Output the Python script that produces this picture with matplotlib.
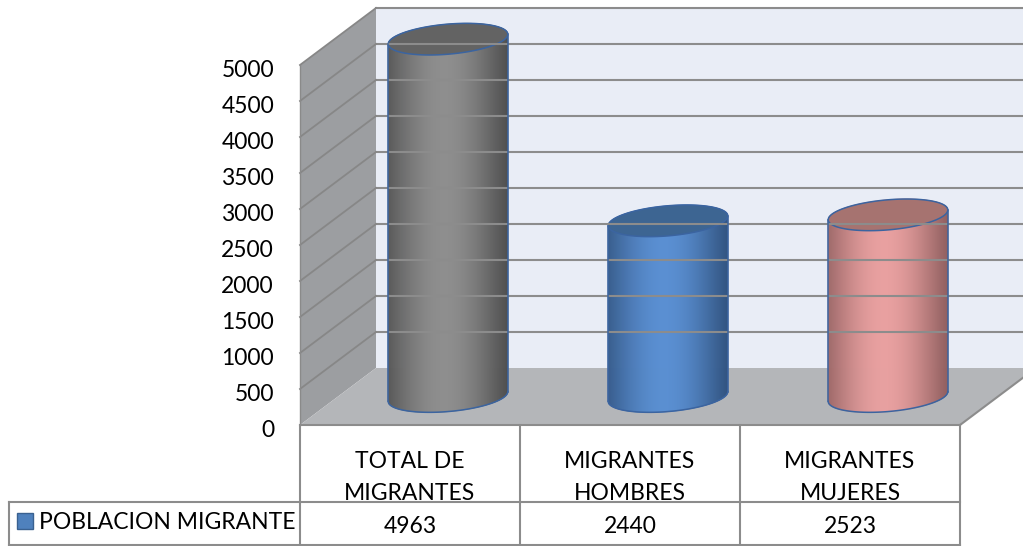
import numpy as np
import matplotlib
matplotlib.use('Agg')
import matplotlib.pyplot as plt
from matplotlib.patches import Polygon, Rectangle
from matplotlib.collections import PolyCollection
from matplotlib.transforms import Affine2D, IdentityTransform
from matplotlib.colors import to_rgb

plt.rcParams['font.family'] = ['Lato', 'DejaVu Sans']

# datos
categorias = [['TOTAL DE', 'MIGRANTES'], ['MIGRANTES', 'HOMBRES'], ['MIGRANTES', 'MUJERES']]
valores = [4963, 2440, 2523]
serie = 'POBLACION MIGRANTE'
ticks_y = list(range(0, 5001, 500))

# colores (oscuro, claro) del cuerpo y color de la tapa
colores_cuerpo = [('#4a4a4a', '#8e8e8e'), ('#2e4f7a', '#5a8fd2'), ('#8a5a5a', '#e8a0a0')]
colores_tapa = ['#636363', '#3d6592', '#a67370']
borde_cil = '#3b64a0'
gris_linea = '#8c8c8c'
FS = 16.5

W, H = 1023, 546
fig = plt.figure(figsize=(W / 100, H / 100), dpi=100)
ax = fig.add_axes([300 / W, 121 / H, 660 / W, 360 / H])
ax.set_xlim(0, 3)
ax.set_ylim(0, 5000)
ax.axis('off')

DX, DY = 76, 57  # profundidad 3D en pixeles
ID = IdentityTransform()


def px(x, y, prof=0.0):
    t = ax.transData + Affine2D().translate(DX * prof, DY * prof)
    return t.transform((x, y))


def poly(puntos, **kw):
    ax.add_patch(Polygon(puntos, closed=True, transform=ID, clip_on=False, **kw))


def linea(p0, p1, **kw):
    ax.plot([p0[0], p1[0]], [p0[1], p1[1]], transform=ID, clip_on=False, **kw)


# paredes y piso
poly([px(0, 0, 1), px(3, 0, 1), px(3, 5000, 1), px(0, 5000, 1)], fc='#e9edf6', ec='none')
poly([px(0, 0, 0), px(0, 0, 1), px(0, 5000, 1), px(0, 5000, 0)], fc='#9c9ea1', ec='none')
poly([px(0, 0, 0), px(3, 0, 0), px(3, 0, 1), px(0, 0, 1)], fc='#b4b6b9', ec='none')

for v in ticks_y[1:]:
    linea(px(0, v, 1), px(3, v, 1), color=gris_linea, lw=1.5)
    linea(px(0, v, 0), px(0, v, 1), color='#878787', lw=1.3)
linea(px(0, 0, 0), px(0, 5000, 0), color='#8a8a8a', lw=1)
linea(px(3, 0, 0), px(3, 0, 1), color=gris_linea, lw=1.5)

# etiquetas eje y
for v in ticks_y:
    x, y = px(0, v, 0)
    ax.text(x - 26, y - 12, str(v), transform=ID, ha='right', va='baseline', fontsize=FS)

# cilindros
A, B, ROT = 60, 15, np.deg2rad(5)


def arco(t0, t1, n=120):
    tt = np.linspace(t0, t1, n)
    return (A * np.cos(tt) * np.cos(ROT) - B * np.sin(tt) * np.sin(ROT),
            A * np.cos(tt) * np.sin(ROT) + B * np.sin(tt) * np.cos(ROT))


t_ext = np.arctan2(-B * np.sin(ROT), A * np.cos(ROT))
xb, yb = arco(t_ext + np.pi, t_ext + 2 * np.pi)  # arco inferior
xa, ya = arco(t_ext + np.pi, t_ext)              # arco superior
xe, ye = arco(0, 2 * np.pi, 200)

for i, v in enumerate(valores):
    cx, cy0 = px(i + 0.5, 0, 0.5)
    _, cy1 = px(i + 0.5, v, 0.5)
    u = np.linspace(xb[0], xb[-1], 121)
    lo = np.interp(u, xb, yb)
    hi = np.interp(u, xa, ya)
    s = (u[:-1] + u[1:]) / 2
    s = (s - u[0]) / (u[-1] - u[0])
    g = np.clip(np.cos((s - 0.47) * np.pi / 1.15), 0, 1) ** 1.2
    osc, cla = np.array(to_rgb(colores_cuerpo[i][0])), np.array(to_rgb(colores_cuerpo[i][1]))
    cols = [osc + (cla - osc) * gk for gk in g]
    quads = [[(cx + u[k], cy0 + lo[k]), (cx + u[k + 1], cy0 + lo[k + 1]),
              (cx + u[k + 1], cy1 + hi[k + 1]), (cx + u[k], cy1 + hi[k])] for k in range(120)]
    pc = PolyCollection(quads, facecolors=cols, edgecolors=cols, linewidths=0.6,
                        transform=ID, clip_on=False)
    ax.add_collection(pc)
    ax.plot(cx + xb, cy0 + yb, color=borde_cil, lw=1.1, transform=ID, clip_on=False)
    linea((cx + xb[0], cy0 + yb[0]), (cx + xb[0], cy1 + yb[0]), color=borde_cil, lw=1.1)
    linea((cx + xb[-1], cy0 + yb[-1]), (cx + xb[-1], cy1 + yb[-1]), color=borde_cil, lw=1.1)
    poly(np.column_stack([cx + xe, cy1 + ye]), fc=colores_tapa[i], ec=borde_cil, lw=1.1)

# tabla de datos
def fila(yi):
    return H - yi

x_fin = px(3, 0, 0)[0]
for k in range(4):
    xk = px(k, 0, 0)[0]
    linea((xk, fila(425)), (xk, fila(545)), color=gris_linea, lw=1.5)
linea(px(0, 0, 0), px(3, 0, 0), color=gris_linea, lw=1.5)
linea((9, fila(502)), (x_fin, fila(502)), color=gris_linea, lw=1.5)
linea((9, fila(545)), (x_fin, fila(545)), color=gris_linea, lw=1.5)
linea((9, fila(502)), (9, fila(545)), color=gris_linea, lw=1.5)

for i, (l1, l2) in enumerate(categorias):
    xc = px(i + 0.5, 0, 0)[0]
    ax.text(xc, fila(468), l1, transform=ID, ha='center', va='baseline', fontsize=FS)
    ax.text(xc, fila(500), l2, transform=ID, ha='center', va='baseline', fontsize=FS)
    ax.text(xc, fila(533), str(valores[i]), transform=ID, ha='center', va='baseline', fontsize=FS)

ax.add_patch(Rectangle((17, fila(529)), 16, 16, fc='#4f81bd', ec='#3a6190', lw=1,
                       transform=ID, clip_on=False))
ax.text(39, fila(529), serie, transform=ID, ha='left', va='baseline', fontsize=FS)

fig.savefig('out.png', dpi=100, facecolor='white')
